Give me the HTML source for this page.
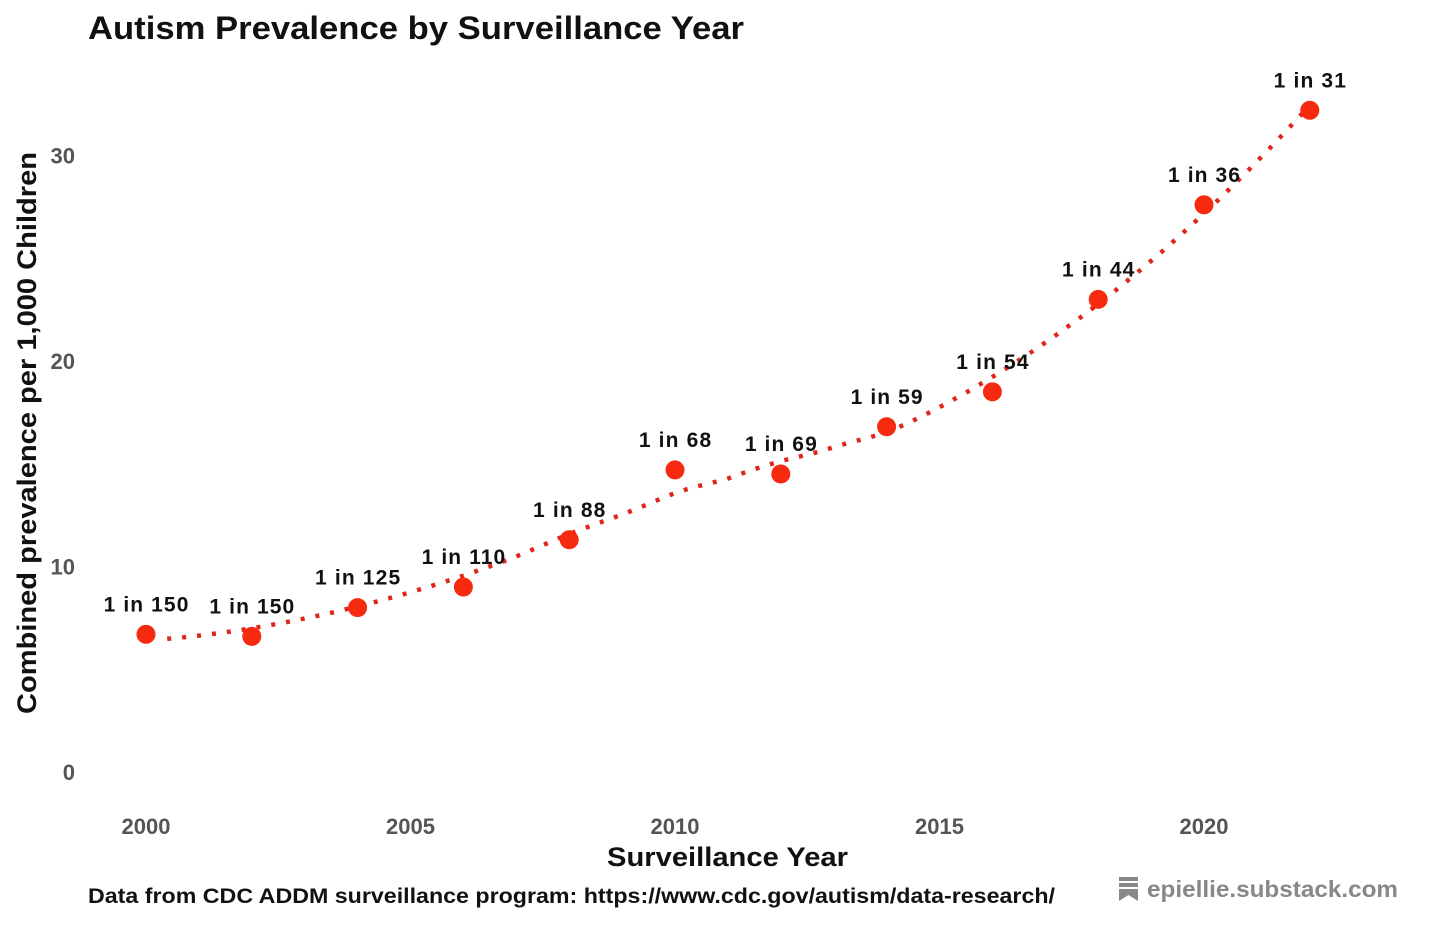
<!DOCTYPE html>
<html><head><meta charset="utf-8"><style>
html,body{margin:0;padding:0;background:#fff;}
svg{display:block;font-family:"Liberation Sans",Arial,sans-serif;}
</style></head><body>
<svg id="chart" width="1456" height="941" viewBox="0 0 1456 941">
<text x="88" y="39" font-size="32" font-weight="bold" fill="#111" textLength="656" lengthAdjust="spacingAndGlyphs">Autism Prevalence by Surveillance Year</text>
<text transform="translate(36,433) rotate(-90)" text-anchor="middle" font-size="27" font-weight="bold" fill="#111" textLength="562" lengthAdjust="spacingAndGlyphs">Combined prevalence per 1,000 Children</text>
<text x="607" y="866" font-size="27" font-weight="bold" fill="#111" textLength="241" lengthAdjust="spacingAndGlyphs">Surveillance Year</text>
<text x="88" y="903" font-size="21" font-weight="bold" fill="#111" textLength="967" lengthAdjust="spacingAndGlyphs">Data from CDC ADDM surveillance program: https://www.cdc.gov/autism/data-research/</text>
<g>
<rect x="1119" y="877" width="19" height="4" fill="#888"/>
<rect x="1119" y="883" width="19" height="4" fill="#888"/>
<path d="M1119 889 H1138 V901 L1128.5 895 L1119 901 Z" fill="#888"/>
<text x="1147" y="897" font-size="23" font-weight="bold" fill="#888" textLength="251" lengthAdjust="spacingAndGlyphs">epiellie.substack.com</text>
</g>
<g id="yticks"></g><g id="xticks"></g><g id="trend"></g><g id="points"></g><g id="labels"></g>
</svg>
<script>
const years = [2000,2002,2004,2006,2008,2010,2012,2014,2016,2018,2020,2022];
const prevalence = [6.7,6.6,8.0,9.0,11.3,14.7,14.5,16.8,18.5,23.0,27.6,32.2];
const pointLabels = ["1 in 150","1 in 150","1 in 125","1 in 110","1 in 88","1 in 68","1 in 69","1 in 59","1 in 54","1 in 44","1 in 36","1 in 31"];
const yTicks = [0,10,20,30];
const xTicks = [2000,2005,2010,2015,2020];

const NS="http://www.w3.org/2000/svg";
const xs=v=>146+(v-2000)*52.9;
const ys=v=>772-v*20.55;
function mk(tag,attrs,parent,text){const e=document.createElementNS(NS,tag);for(const k in attrs)e.setAttribute(k,attrs[k]);if(text!==undefined)e.textContent=text;document.getElementById(parent).appendChild(e);return e;}

yTicks.forEach(t=>{const e=mk('text',{x:75,y:ys(t)+8,'text-anchor':'end','font-size':22,'font-weight':'bold',fill:'#555'},'yticks',t);

});
xTicks.forEach(t=>{const e=mk('text',{x:xs(t),y:834,'text-anchor':'middle','font-size':22,'font-weight':'bold',fill:'#555'},'xticks',t);

});

// loess (span 0.75, local quadratic, tricube weights)
function solve(A){const n=A.length;for(let i=0;i<n;i++){let p=i;for(let r=i+1;r<n;r++)if(Math.abs(A[r][i])>Math.abs(A[p][i]))p=r;[A[i],A[p]]=[A[p],A[i]];for(let r=0;r<n;r++){if(r===i)continue;const f=A[r][i]/A[i][i];for(let c=i;c<=n;c++)A[r][c]-=f*A[i][c];}}return A.map((row,i)=>row[n]/row[i]);}
function loess(x0){const n=years.length,q=Math.floor(0.75*n);
const dist=years.map(y=>Math.abs(y-x0)).sort((a,b)=>a-b);const h=dist[q-1]*1.0001;
const A=[[0,0,0,0],[0,0,0,0],[0,0,0,0]];
years.forEach((yr,k)=>{const d=Math.abs(yr-x0)/h;if(d>=1)return;const w=Math.pow(1-d*d*d,3);const u=yr-x0;const b=[1,u,u*u];
for(let i=0;i<3;i++){for(let j=0;j<3;j++)A[i][j]+=w*b[i]*b[j];A[i][3]+=w*b[i]*prevalence[k];}});
return solve(A)[0];}
let d="";const y0=years[0]+0.4,y1=years[years.length-1];
for(let i=0;i<=200;i++){const yr=y0+(y1-y0)*i/200;d+=(i?"L":"M")+xs(yr).toFixed(1)+" "+ys(loess(yr)).toFixed(1);}
const tl=mk('path',{d:d,fill:'none',stroke:'#e0261a','stroke-width':4.5,'stroke-dasharray':'4 11'},'trend');



years.forEach((yr,i)=>{
const c=mk('circle',{cx:xs(yr),cy:ys(prevalence[i]),r:9.5,fill:'#f52a0f'},'points');


const t=mk('text',{x:xs(yr),y:ys(prevalence[i])-23,'text-anchor':'middle','font-size':21,'font-weight':'bold',fill:'#111'},'labels',pointLabels[i]);


const bb=t.getBBox();t.setAttribute('textLength',(bb.width*1.1).toFixed(1));
});
</script>
</body></html>
